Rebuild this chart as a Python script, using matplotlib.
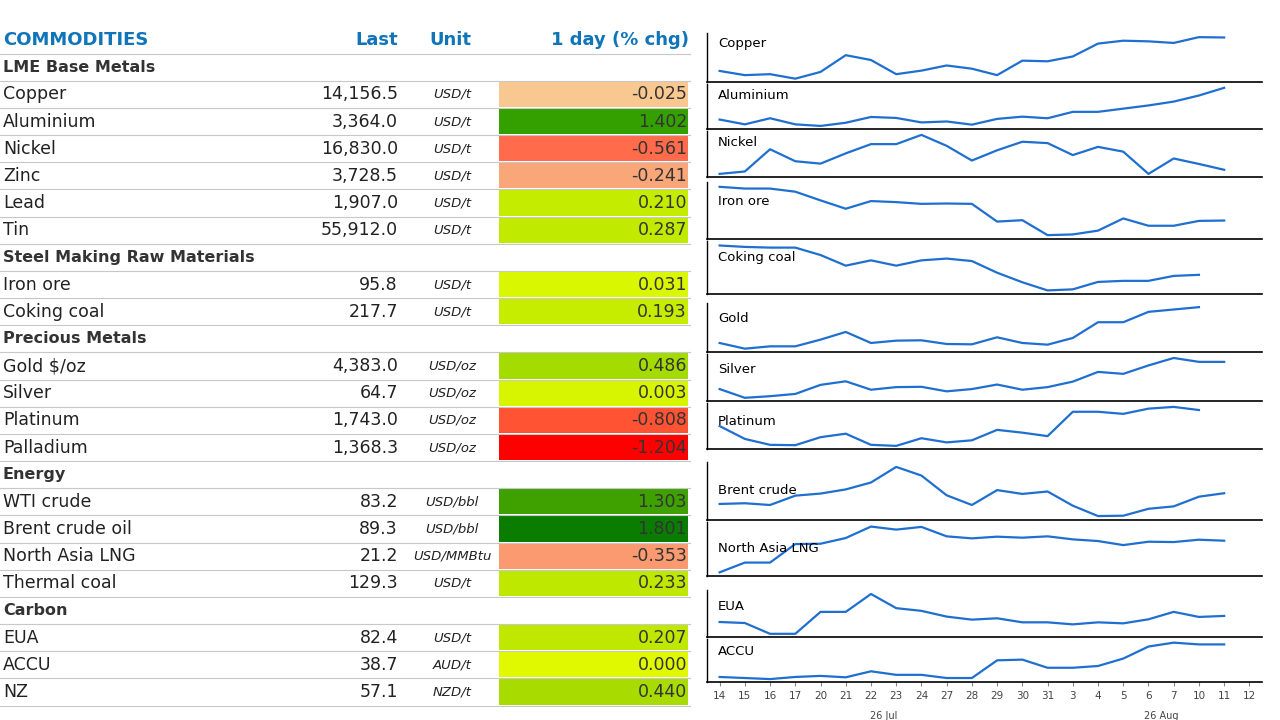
import matplotlib.pyplot as plt
from matplotlib.patches import Rectangle

# table rows: (name, last, unit, change, colour); None last => section header
rows = [
    ("LME Base Metals", None, None, None, None),
    ("Copper", "14,156.5", "USD/t", "-0.025", "#F8C890"),
    ("Aluminium", "3,364.0", "USD/t", "1.402", "#33A000"),
    ("Nickel", "16,830.0", "USD/t", "-0.561", "#FF6B4B"),
    ("Zinc", "3,728.5", "USD/t", "-0.241", "#F9A679"),
    ("Lead", "1,907.0", "USD/t", "0.210", "#C4EC00"),
    ("Tin", "55,912.0", "USD/t", "0.287", "#C0EA00"),
    ("Steel Making Raw Materials", None, None, None, None),
    ("Iron ore", "95.8", "USD/t", "0.031", "#D9F700"),
    ("Coking coal", "217.7", "USD/t", "0.193", "#C6EC00"),
    ("Precious Metals", None, None, None, None),
    ("Gold $/oz", "4,383.0", "USD/oz", "0.486", "#A4DB00"),
    ("Silver", "64.7", "USD/oz", "0.003", "#D8F500"),
    ("Platinum", "1,743.0", "USD/oz", "-0.808", "#FF5333"),
    ("Palladium", "1,368.3", "USD/oz", "-1.204", "#FF0000"),
    ("Energy", None, None, None, None),
    ("WTI crude", "83.2", "USD/bbl", "1.303", "#3FA100"),
    ("Brent crude oil", "89.3", "USD/bbl", "1.801", "#0A7D00"),
    ("North Asia LNG", "21.2", "USD/MMBtu", "-0.353", "#FB9A71"),
    ("Thermal coal", "129.3", "USD/t", "0.233", "#BFE800"),
    ("Carbon", None, None, None, None),
    ("EUA", "82.4", "USD/t", "0.207", "#BFE800"),
    ("ACCU", "38.7", "AUD/t", "0.000", "#E0F800"),
    ("NZ", "57.1", "NZD/t", "0.440", "#A8DC00"),
]

days = ["14", "15", "16", "17", "20", "21", "22", "23", "24", "27", "28",
        "29", "30", "31", "3", "4", "5", "6", "7", "10", "11", "12"]

spark = {
    "Copper": [28, 15, 18, 4, 25, 77, 62, 18, 29, 45, 35, 15, 60, 58, 73, 113, 122, 120, 115, 133, 132],
    "Aluminium": [28, 13, 32, 13, 8, 18, 36, 33, 19, 22, 12, 30, 37, 32, 52, 52, 62, 72, 84, 103, 127],
    "Nickel": [13, 20, 85, 50, 43, 73, 100, 100, 127, 95, 52, 82, 107, 103, 68, 92, 78, 13, 58, 42, 25],
    "Iron ore": [155, 150, 150, 141, 116, 92, 114, 111, 106, 107, 106, 55, 59, 16, 18, 29, 64, 43, 43, 57, 58],
    "Coking coal": [144, 140, 138, 138, 117, 87, 102, 87, 102, 107, 100, 67, 40, 17, 20, 41, 44, 44, 58, 61],
    "Gold": [32, 15, 22, 22, 42, 65, 32, 39, 40, 29, 28, 49, 32, 27, 47, 94, 94, 125, 132, 139],
    "Silver": [34, 7, 12, 19, 47, 58, 32, 40, 41, 27, 34, 48, 32, 40, 57, 87, 81, 107, 130, 118, 118],
    "Platinum": [69, 32, 15, 14, 37, 47, 15, 12, 34, 22, 28, 58, 50, 40, 110, 110, 104, 119, 124, 115],
    "Brent crude": [48, 50, 45, 72, 78, 90, 110, 155, 130, 73, 45, 88, 77, 84, 43, 13, 14, 34, 41, 69, 79],
    "North Asia LNG": [18, 47, 47, 102, 103, 120, 154, 145, 153, 125, 119, 124, 121, 125, 116, 111, 99, 109, 108, 115, 112],
    "EUA": [40, 37, 5, 5, 70, 70, 123, 81, 73, 56, 47, 51, 39, 39, 33, 39, 36, 48, 70, 55, 58],
    "ACCU": [21, 18, 15, 21, 24, 20, 37, 27, 27, 18, 18, 68, 70, 47, 47, 52, 73, 107, 118, 113, 113],
}
# panel pixel extents (top, bottom) in the 1280x720 image
panels = [(33, 82), (84, 129), (131, 177), (182, 239), (241, 294), (303, 352),
          (354, 401), (403, 449), (462, 520), (522, 576), (590, 637), (639, 682)]
label_y = [0.78, 0.75, 0.75, 0.65, 0.68, 0.68, 0.68, 0.6, 0.5, 0.5, 0.65, 0.7]

W, H = 1280, 720
fig = plt.figure(figsize=(12.8, 7.2), dpi=100)
tab = fig.add_axes([0, 0, 1, 1])
tab.set_xlim(0, W)
tab.set_ylim(H, 0)
tab.axis("off")

blue = "#0F75B8"
rh = 27.17
y0 = 40
tab.text(3, y0, "COMMODITIES", color=blue, fontsize=13, fontweight="bold", va="center")
tab.text(398, y0, "Last", color=blue, fontsize=13, fontweight="bold", va="center", ha="right")
tab.text(450, y0, "Unit", color=blue, fontsize=13, fontweight="bold", va="center", ha="center")
tab.text(689, y0, "1 day (% chg)", color=blue, fontsize=13, fontweight="bold", va="center", ha="right")
tab.plot([0, 690], [y0 + rh / 2, y0 + rh / 2], color="#C8C8C8", lw=0.8)

for i, (name, last, unit, chg, col) in enumerate(rows):
    y = y0 + (i + 1) * rh
    if last is None:
        tab.text(3, y, name, fontsize=11.5, fontweight="bold", color="#333333", va="center")
    else:
        tab.add_patch(Rectangle((499, y - rh / 2 + 1), 189, rh - 2, color=col, lw=0))
        tab.text(3, y, name, fontsize=12.5, color="#222222", va="center")
        tab.text(398, y, last, fontsize=12.5, color="#222222", va="center", ha="right")
        tab.text(452, y, unit, fontsize=9.5, style="italic", color="#222222", va="center", ha="center")
        tab.text(687, y, chg, fontsize=12.5, color="#333333", va="center", ha="right")
    tab.plot([0, 690], [y + rh / 2, y + rh / 2], color="#C8C8C8", lw=0.8)

x_left, x_right = 707, 1262
for k, (name, vals) in enumerate(spark.items()):
    top, bot = panels[k]
    ax = fig.add_axes([x_left / W, 1 - bot / H, (x_right - x_left) / W, (bot - top) / H])
    ax.plot(range(len(vals)), vals, color="#1F6FD0", lw=1.6)
    ax.set_xlim(-0.5, 21.5)
    lo, hi = min(vals), max(vals)
    ax.set_ylim(lo - 0.08 * (hi - lo), hi + 0.1 * (hi - lo))
    for s in ["top", "right"]:
        ax.spines[s].set_visible(False)
    ax.spines["left"].set_linewidth(1)
    ax.spines["bottom"].set_linewidth(1.2)
    ax.set_yticks([])
    ax.set_facecolor("none")
    ax.text(0.02, label_y[k], name, transform=ax.transAxes, fontsize=9.5, va="center")
    ax.set_xticks(range(len(days)))
    if k == len(spark) - 1:
        ax.set_xticklabels(days, fontsize=7.5, color="#444444")
        ax.tick_params(axis="x", length=3, color="#888888")
        for xm, lab in [(6.5, "26 Jul"), (17.5, "26 Aug")]:
            ax.annotate(lab, (xm, 0), xycoords=ax.get_xaxis_transform(),
                        xytext=(0, -21), textcoords="offset points",
                        ha="center", va="top", fontsize=7, color="#444444")
    else:
        ax.set_xticklabels([])
        ax.tick_params(axis="x", length=0)

fig.savefig("out.png", dpi=100)
